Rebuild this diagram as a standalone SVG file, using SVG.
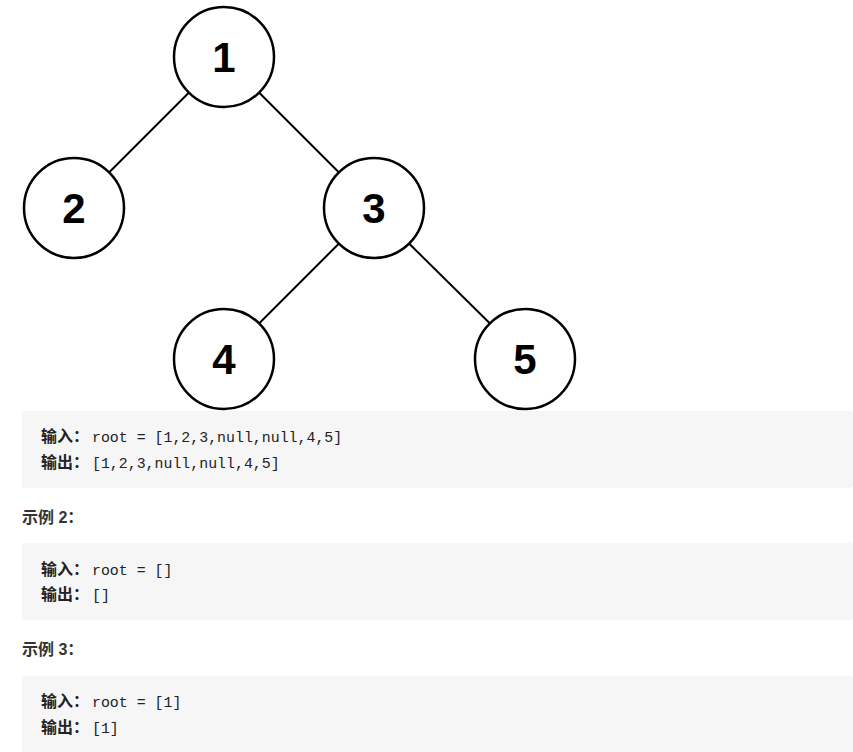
<svg xmlns="http://www.w3.org/2000/svg" width="853" height="752" viewBox="0 0 853 752">
<style>
.node circle{fill:#fff;stroke:#000;stroke-width:2.5}
.node text{font-family:"Liberation Sans",Arial,sans-serif;font-weight:bold;font-size:42px;text-anchor:middle;fill:#000}
.edge{stroke:#000;stroke-width:2}
.box{fill:#f6f6f6}
.cjk{font-family:"Noto Sans CJK SC","Noto Sans",sans-serif;font-weight:bold;font-size:16px;fill:#222}
.mono{font-family:"Liberation Mono","DejaVu Sans Mono",monospace;font-size:14.9px;fill:#222}
.h{font-family:"Liberation Sans","Noto Sans CJK SC",sans-serif;font-weight:bold;font-size:16px;fill:#333}
</style>
<rect width="853" height="752" fill="#fff"/>
<g id="connectors">
<line class="edge" x1="189" y1="92.5" x2="109" y2="172.5"/>
<line class="edge" x1="259" y1="92.5" x2="339" y2="172.5"/>
<line class="edge" x1="339" y1="243.5" x2="259" y2="323.5"/>
<line class="edge" x1="409" y1="243.5" x2="490" y2="323.5"/>
</g>
<g id="node1" class="node"><circle cx="224" cy="57" r="50"/><text x="224" y="72">1</text></g>
<g id="node2" class="node"><circle cx="74" cy="208" r="50"/><text x="74" y="223">2</text></g>
<g id="node3" class="node"><circle cx="374" cy="208" r="50"/><text x="374" y="223">3</text></g>
<g id="node4" class="node"><circle cx="224" cy="359" r="50"/><text x="224" y="374">4</text></g>
<g id="node5" class="node"><circle cx="525" cy="359" r="50"/><text x="525" y="374">5</text></g>
<g id="example1">
<rect class="box" x="22" y="411" width="831" height="77" rx="3"/>
<text x="41" y="442"><tspan class="cjk">输入：</tspan><tspan class="mono" x="92">root = [1,2,3,null,null,4,5]</tspan></text>
<text x="41" y="468"><tspan class="cjk">输出：</tspan><tspan class="mono" x="92">[1,2,3,null,null,4,5]</tspan></text>
</g>
<text class="h" x="22" y="523">示例 2：</text>
<g id="example2">
<rect class="box" x="22" y="543" width="831" height="77" rx="3"/>
<text x="41" y="575"><tspan class="cjk">输入：</tspan><tspan class="mono" x="92">root = []</tspan></text>
<text x="41" y="600"><tspan class="cjk">输出：</tspan><tspan class="mono" x="92">[]</tspan></text>
</g>
<text class="h" x="22" y="655">示例 3：</text>
<g id="example3">
<rect class="box" x="22" y="676" width="831" height="80" rx="3"/>
<text x="41" y="707"><tspan class="cjk">输入：</tspan><tspan class="mono" x="92">root = [1]</tspan></text>
<text x="41" y="733"><tspan class="cjk">输出：</tspan><tspan class="mono" x="92">[1]</tspan></text>
</g>
</svg>
